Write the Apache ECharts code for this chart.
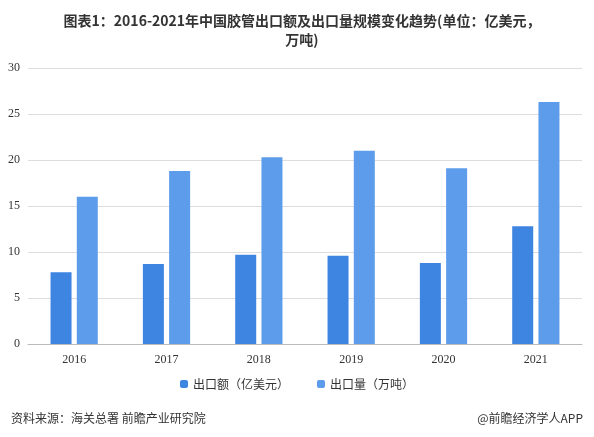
<!DOCTYPE html>
<html><head><meta charset="utf-8">
<script src="https://cdn.jsdelivr.net/npm/echarts@6/dist/echarts.min.js"></script>
<style>html,body{margin:0;padding:0;background:#fff}#c{width:594px;height:437px}</style>
</head><body><div id="c"></div>
<script>
const categories=['2016','2017','2018','2019','2020','2021'];
const exportValue=[7.8,8.7,9.7,9.6,8.8,12.8];
const exportVolume=[16.0,18.8,20.3,21.0,19.1,26.3];
const yTicks={min:0,max:30,interval:5};
const chart=echarts.init(document.getElementById('c'));
chart.setOption({
 animation:false,
 title:[{text:'图表1：2016-2021年中国胶管出口额及出口量规模变化趋势(单位：亿美元，\n万吨)',left:297,top:6,textAlign:'center',
   textStyle:{fontSize:14,fontWeight:'bold',color:'#333',lineHeight:19,fontFamily:'Noto Sans CJK SC'}},
   {text:'资料来源：海关总署 前瞻产业研究院',left:6,top:407,textStyle:{fontSize:12,fontWeight:'normal',color:'#333',fontFamily:'Noto Sans CJK SC'}},
   {text:'@前瞻经济学人APP',right:6,top:407,textStyle:{fontSize:12,fontWeight:'normal',color:'#333',fontFamily:'Noto Sans CJK SC'}}],
 legend:{bottom:42,itemWidth:8,itemHeight:8,itemGap:28,textStyle:{fontSize:12,color:'#333',fontFamily:'Noto Sans CJK SC'},data:['出口额（亿美元）','出口量（万吨）']},
 grid:{left:28,right:12,top:68,bottom:93,containLabel:false},
 xAxis:{type:'category',data:categories,axisTick:{show:false},axisLine:{lineStyle:{color:'#bbb'}},
   axisLabel:{color:'#333',fontSize:12,fontFamily:'Liberation Serif',margin:10}},
 yAxis:{type:'value',min:yTicks.min,max:yTicks.max,interval:yTicks.interval,axisLine:{show:false},axisTick:{show:false},
   splitLine:{lineStyle:{color:'#ddd'}},axisLabel:{color:'#333',fontSize:12,fontFamily:'Liberation Serif'}},
 series:[
  {name:'出口额（亿美元）',type:'bar',data:exportValue,barWidth:21,barGap:'25%',itemStyle:{color:'#3d85e0'}},
  {name:'出口量（万吨）',type:'bar',data:exportVolume,barWidth:21,itemStyle:{color:'#5d9ceb'}}
 ]
});
</script></body></html>
